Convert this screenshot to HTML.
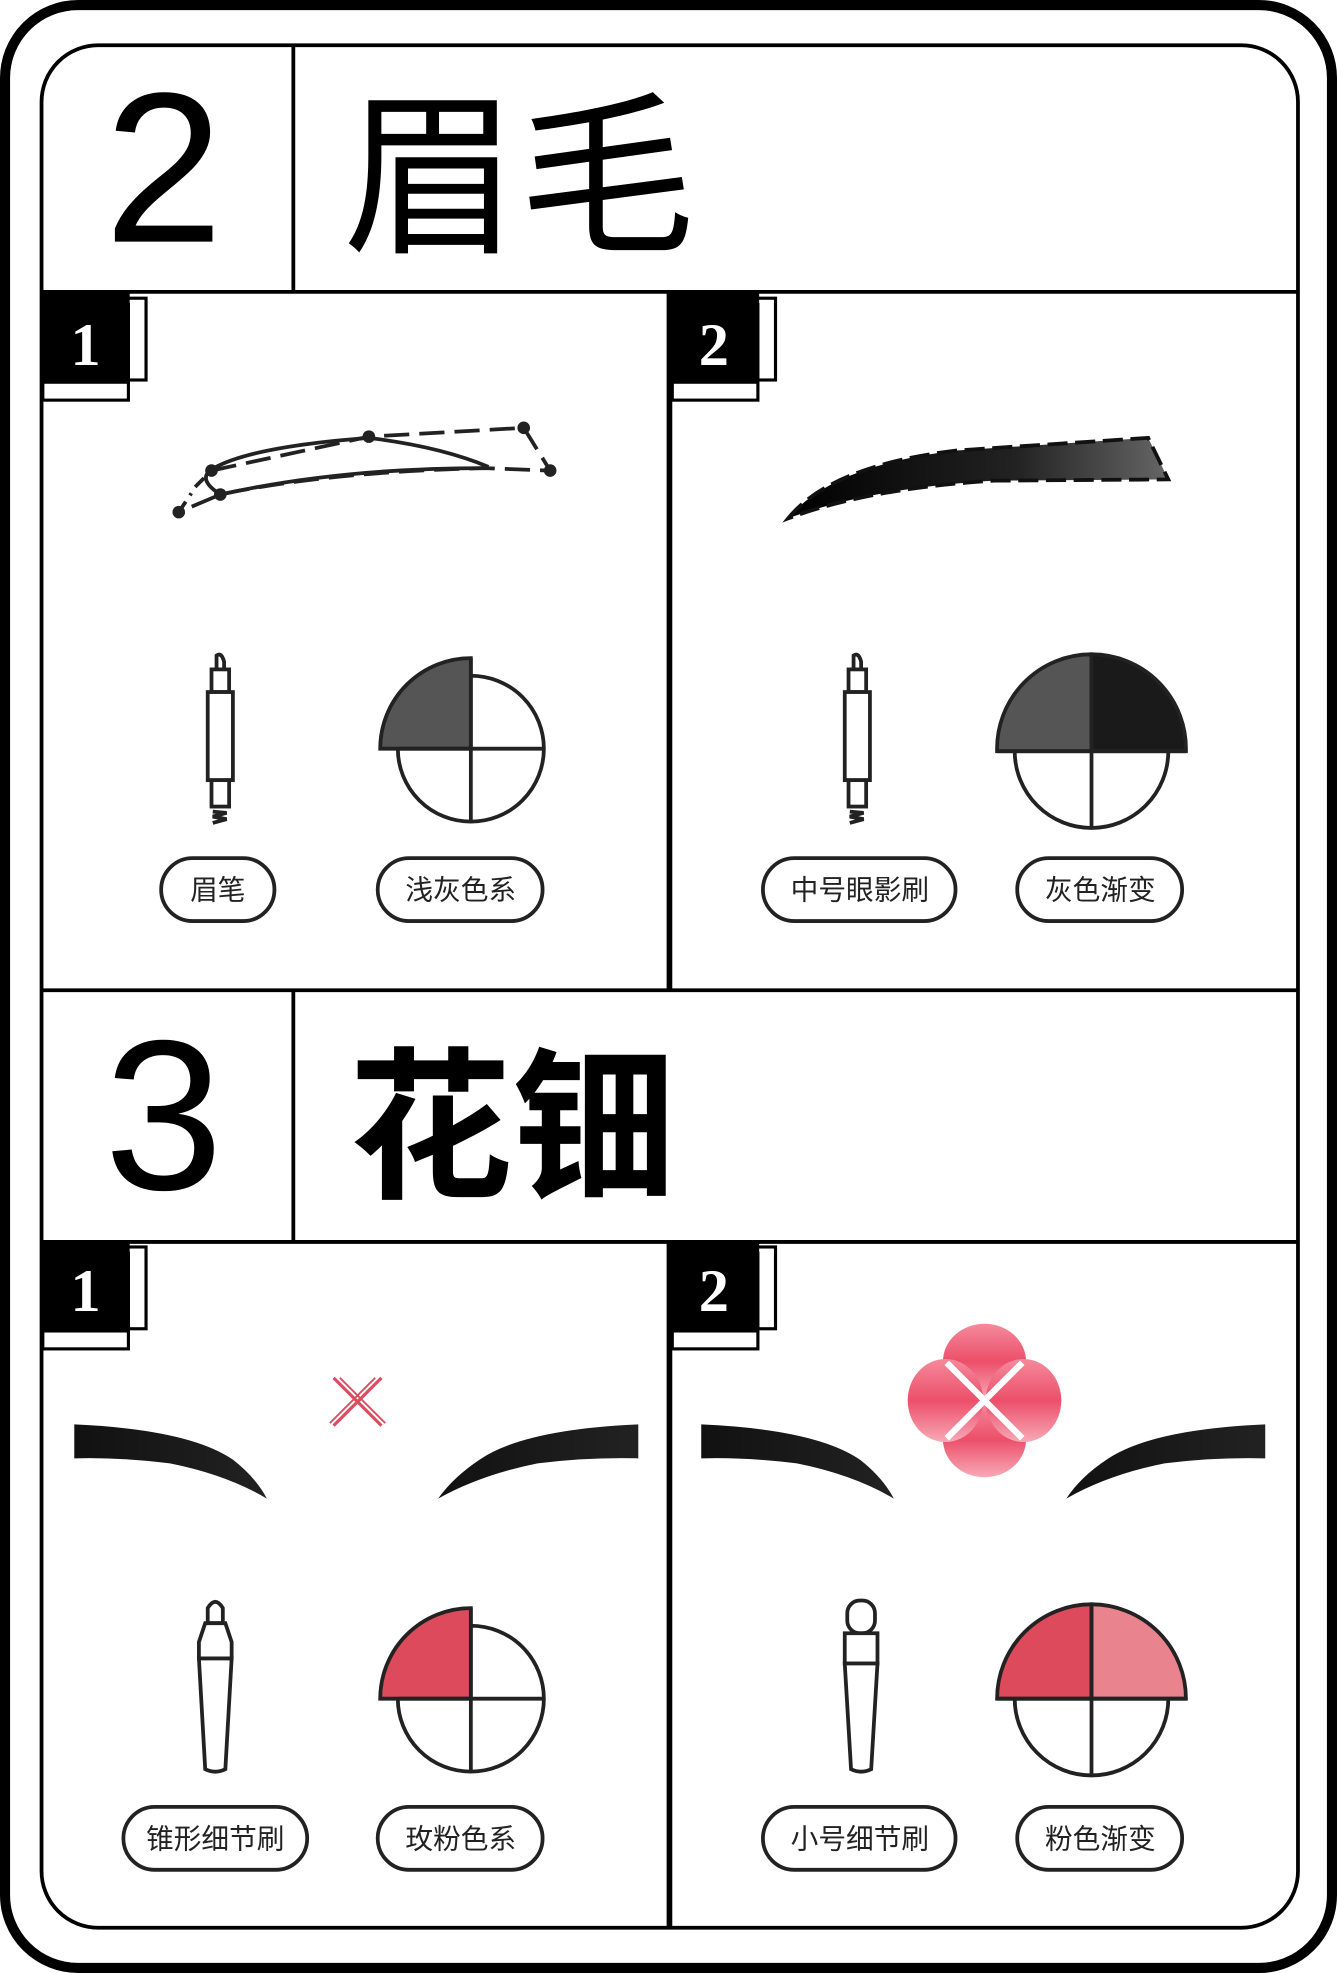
<!DOCTYPE html>
<html><head><meta charset="utf-8">
<style>
html,body{margin:0;padding:0;background:#fff;}
svg{display:block;}
.cjk{font-family:"Liberation Sans","Noto Sans CJK SC",sans-serif;}
.pill text{font-family:"Liberation Sans","Noto Sans CJK SC",sans-serif;font-size:22px;fill:#222;text-anchor:middle;}
</style></head>
<body>
<svg width="1337" height="1973" viewBox="0 0 1062 1568" preserveAspectRatio="none" xmlns="http://www.w3.org/2000/svg">
<defs>
  <linearGradient id="browgrad" x1="0" x2="1" y1="0" y2="0">
    <stop offset="0" stop-color="#000"/><stop offset="0.6" stop-color="#222"/><stop offset="1" stop-color="#666"/>
  </linearGradient>
  <linearGradient id="blackbrow" x1="0" x2="1"><stop offset="0" stop-color="#111"/><stop offset="1" stop-color="#222"/></linearGradient>
  <linearGradient id="petal" x1="0" x2="0" y1="0" y2="1"><stop offset="0" stop-color="#f58a9c"/><stop offset="0.5" stop-color="#ec4f6a"/><stop offset="1" stop-color="#f7a9b6"/></linearGradient>
</defs>
<rect x="4" y="4" width="1054" height="1560" rx="58" fill="#fff" stroke="#000" stroke-width="8"/>
<rect x="33" y="36" width="998" height="1496" rx="45" fill="#fff" stroke="#000" stroke-width="3"/>

<g>
<line x1="233" y1="37" x2="233" y2="232" stroke="#000" stroke-width="3"/>
<line x1="33" y1="232" x2="1031" y2="232" stroke="#000" stroke-width="3"/>
<text x="130" y="192" font-size="170" text-anchor="middle" font-family="Liberation Sans,sans-serif">2</text>
<text x="272" y="190" font-size="140" class="cjk">眉毛</text>
</g>

<line x1="531" y1="232" x2="531" y2="787" stroke="#000" stroke-width="3"/>
<line x1="533" y1="300" x2="533" y2="787" stroke="#000" stroke-width="2"/>
<line x1="33" y1="787" x2="1031" y2="787" stroke="#000" stroke-width="3"/>

<g>
<line x1="233" y1="788" x2="233" y2="987" stroke="#000" stroke-width="3"/>
<line x1="33" y1="987" x2="1031" y2="987" stroke="#000" stroke-width="3"/>
<text x="130" y="945" font-size="170" text-anchor="middle" font-family="Liberation Sans,sans-serif">3</text>
<text x="277" y="942" font-size="130" font-weight="bold" class="cjk">花钿</text>
</g>
<line x1="531" y1="987" x2="531" y2="1532" stroke="#000" stroke-width="3"/>
<line x1="533" y1="1055" x2="533" y2="1532" stroke="#000" stroke-width="2"/>

<g>
<rect x="36" y="237" width="80" height="65" fill="#fff" stroke="#000" stroke-width="2.5"/>
<rect x="34" y="242" width="68" height="76" fill="#fff" stroke="#000" stroke-width="2.5"/>
<rect x="33" y="233" width="70" height="72" fill="#000"/>
<text x="68" y="290" font-size="48" font-weight="bold" fill="#fff" text-anchor="middle" font-family="Liberation Serif,serif">1</text>
</g>
<g>
<rect x="536" y="237" width="80" height="65" fill="#fff" stroke="#000" stroke-width="2.5"/>
<rect x="534" y="242" width="68" height="76" fill="#fff" stroke="#000" stroke-width="2.5"/>
<rect x="532" y="233" width="71" height="72" fill="#000"/>
<text x="567" y="290" font-size="48" font-weight="bold" fill="#fff" text-anchor="middle" font-family="Liberation Serif,serif">2</text>
</g>
<g>
<rect x="36" y="991" width="80" height="65" fill="#fff" stroke="#000" stroke-width="2.5"/>
<rect x="34" y="996" width="68" height="76" fill="#fff" stroke="#000" stroke-width="2.5"/>
<rect x="33" y="988" width="70" height="71" fill="#000"/>
<text x="68" y="1042" font-size="48" font-weight="bold" fill="#fff" text-anchor="middle" font-family="Liberation Serif,serif">1</text>
</g>
<g>
<rect x="536" y="991" width="80" height="65" fill="#fff" stroke="#000" stroke-width="2.5"/>
<rect x="534" y="996" width="68" height="76" fill="#fff" stroke="#000" stroke-width="2.5"/>
<rect x="532" y="988" width="71" height="71" fill="#000"/>
<text x="567" y="1042" font-size="48" font-weight="bold" fill="#fff" text-anchor="middle" font-family="Liberation Serif,serif">2</text>
</g>

<g fill="none" stroke="#222" stroke-width="3">
<path d="M142,407 L152,392 M155,387 L168,374" stroke-dasharray="10,6"/>
<path d="M168,374 L293,347 L416,340" stroke-dasharray="20,8"/>
<path d="M416,340 L437,374 L385,372 Q260,375 175,393 L142,407" stroke-dasharray="20,8"/>
<path d="M175,393 Q155,380 170,372 Q200,355 293,348 Q350,355 388,371"/>
<path d="M175,393 Q270,372 385,372"/>
<g fill="#222" stroke="none">
<circle cx="142" cy="407" r="5"/><circle cx="175" cy="393" r="5"/><circle cx="168" cy="374" r="5"/>
<circle cx="293" cy="347" r="5"/><circle cx="416" cy="340" r="5"/><circle cx="437" cy="374" r="5"/>
</g>
</g>

<g fill="#fff" stroke="#222" stroke-width="3">
<path d="M172,532 L172,521 Q176,518 178,526 L178,532"/>
<rect x="168" y="532" width="14" height="18"/>
<rect x="165" y="550" width="20" height="70"/>
<rect x="168" y="620" width="14" height="21"/>
<path d="M169,645 L180,646 L169,649 L180,651 L169,654" fill="none"/>
</g>
<g fill="#fff" stroke="#222" stroke-width="3">
<path d="M678,532 L678,521 Q682,518 684,526 L684,532"/>
<rect x="674" y="532" width="14" height="18"/>
<rect x="671" y="550" width="20" height="70"/>
<rect x="674" y="620" width="14" height="21"/>
<path d="M675,645 L686,646 L675,649 L686,651 L675,654" fill="none"/>
</g>

<g stroke="#222" stroke-width="3">
<circle cx="374" cy="595" r="58" fill="#fff"/>
<path d="M374,595 L302,595 A72,72 0 0 1 374,523 Z" fill="#555"/>
<line x1="374" y1="523" x2="374" y2="653"/><line x1="316" y1="595" x2="432" y2="595"/>
</g>
<g stroke="#222" stroke-width="3">
<circle cx="867" cy="597" r="61" fill="#fff"/>
<path d="M867,597 L792,597 A75,75 0 0 1 867,520 Z" fill="#555"/>
<path d="M867,597 L942,597 A75,75 0 0 0 867,520 Z" fill="#1a1a1a"/>
<line x1="867" y1="520" x2="867" y2="658"/><line x1="792" y1="597" x2="942" y2="597"/>
</g>
<g stroke="#222" stroke-width="3">
<circle cx="374" cy="1350" r="58" fill="#fff"/>
<path d="M374,1350 L302,1350 A72,72 0 0 1 374,1278 Z" fill="#dc4a5b"/>
<line x1="374" y1="1278" x2="374" y2="1408"/><line x1="316" y1="1350" x2="432" y2="1350"/>
</g>
<g stroke="#222" stroke-width="3">
<circle cx="867" cy="1350" r="61" fill="#fff"/>
<path d="M867,1350 L792,1350 A75,75 0 0 1 867,1275 Z" fill="#dc4a5b"/>
<path d="M867,1350 L942,1350 A75,75 0 0 0 867,1275 Z" fill="#e9848f"/>
<line x1="867" y1="1275" x2="867" y2="1411"/><line x1="792" y1="1350" x2="942" y2="1350"/>
</g>

<g>
<path d="M626,412 Q660,370 760,358 L912,348 L928,381 L790,382 Q690,388 626,412 Z" fill="url(#browgrad)" stroke="#111" stroke-width="3" stroke-dasharray="16,6"/>
</g>

<g fill="url(#blackbrow)">
<path d="M59,1132 Q150,1136 185,1160 Q203,1174 212,1191 Q180,1172 135,1163 Q95,1158 59,1159 Z"/>
<path d="M507,1132 Q416,1136 381,1160 Q360,1174 348,1191 Q382,1172 427,1163 Q467,1158 507,1159 Z"/>
</g>
<g fill="url(#blackbrow)">
<path d="M557,1132 Q648,1136 683,1160 Q701,1174 710,1191 Q678,1172 633,1163 Q593,1158 557,1159 Z"/>
<path d="M1005,1132 Q914,1136 879,1160 Q858,1174 847,1191 Q880,1172 925,1163 Q965,1158 1005,1159 Z"/>
</g>

<g stroke="#e04a5f" stroke-width="2.5">
<line x1="265" y1="1095" x2="303" y2="1133"/><line x1="303" y1="1095" x2="265" y2="1133"/>
<line x1="270" y1="1095" x2="306" y2="1131" stroke-width="1.5"/><line x1="298" y1="1095" x2="262" y2="1131" stroke-width="1.5"/>
</g>

<g fill="url(#petal)">
<ellipse cx="782" cy="1082" rx="33" ry="30"/>
<ellipse cx="782" cy="1144" rx="33" ry="30"/>
<ellipse cx="751" cy="1113" rx="30" ry="33"/>
<ellipse cx="813" cy="1113" rx="30" ry="33"/>
<g stroke="#fff" stroke-width="5"><line x1="752" y1="1083" x2="812" y2="1143"/><line x1="812" y1="1083" x2="752" y2="1143"/></g>
</g>

<g fill="#fff" stroke="#222" stroke-width="3">
<path d="M165,1290 L165,1278 Q171,1268 177,1278 L177,1290 Z"/>
<path d="M163,1290 L179,1290 L184,1305 L184,1318 L158,1318 L158,1305 Z"/>
<path d="M158,1318 L184,1318 L179,1406 Q171,1410 163,1406 Z"/>
</g>
<g fill="#fff" stroke="#222" stroke-width="3">
<rect x="673" y="1272" width="22" height="26" rx="10"/>
<path d="M671,1298 L697,1298 L697,1322 L671,1322 Z"/>
<path d="M671,1322 L697,1322 L692,1406 Q684,1410 676,1406 Z"/>
</g>

<g class="pill" fill="#fff" stroke="#222" stroke-width="3">
<g><rect x="128" y="682" width="90" height="50" rx="25"/><text x="173" y="715" stroke="none">眉笔</text></g>
<g><rect x="300" y="682" width="131" height="50" rx="25"/><text x="366" y="715" stroke="none">浅灰色系</text></g>
<g><rect x="606" y="682" width="153" height="50" rx="25"/><text x="683" y="715" stroke="none">中号眼影刷</text></g>
<g><rect x="808" y="682" width="131" height="50" rx="25"/><text x="874" y="715" stroke="none">灰色渐变</text></g>
<g><rect x="98" y="1436" width="146" height="50" rx="25"/><text x="171" y="1469" stroke="none">锥形细节刷</text></g>
<g><rect x="300" y="1436" width="131" height="50" rx="25"/><text x="366" y="1469" stroke="none">玫粉色系</text></g>
<g><rect x="606" y="1436" width="153" height="50" rx="25"/><text x="683" y="1469" stroke="none">小号细节刷</text></g>
<g><rect x="808" y="1436" width="131" height="50" rx="25"/><text x="874" y="1469" stroke="none">粉色渐变</text></g>
</g>
</svg>
</body></html>
